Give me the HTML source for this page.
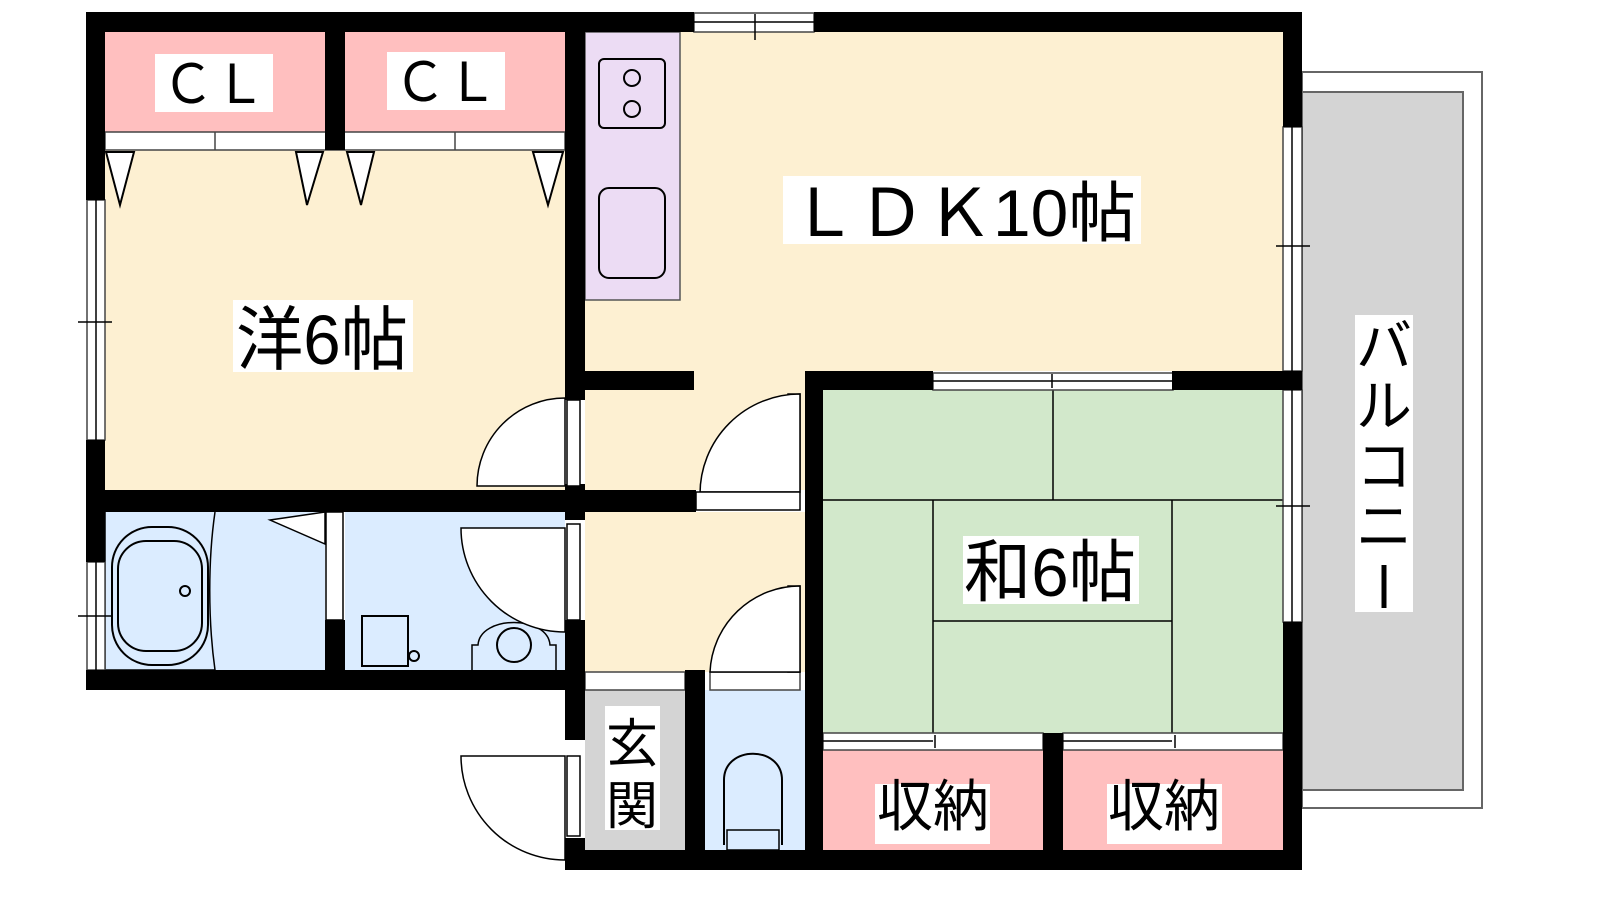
<!DOCTYPE html>
<html><head><meta charset="utf-8"><style>
html,body{margin:0;padding:0;background:#fff;width:1600px;height:900px;overflow:hidden}
svg{display:block}
text{font-family:"Liberation Sans","Noto Sans CJK JP",sans-serif;fill:#000}
</style></head><body>
<svg width="1600" height="900" viewBox="0 0 1600 900" xmlns="http://www.w3.org/2000/svg">
<!-- balcony -->
<rect x="1302" y="72" width="180" height="736" fill="#fff" stroke="#666" stroke-width="2"/>
<rect x="1302" y="92" width="161" height="698" fill="#d4d4d4" stroke="#666" stroke-width="2"/>
<!-- floors -->
<rect x="105" y="150" width="460" height="340" fill="#fdf0d2"/>
<rect x="585" y="32" width="698" height="339" fill="#fdf0d2"/>
<rect x="585" y="360" width="220" height="130" fill="#fdf0d2"/>
<rect x="585" y="512" width="220" height="160" fill="#fdf0d2"/>
<rect x="105" y="32" width="220" height="100" fill="#ffbfbf"/>
<rect x="345" y="32" width="220" height="100" fill="#ffbfbf"/>
<rect x="105" y="132" width="460" height="18" fill="#fff" stroke="#444" stroke-width="1.5"/>
<line x1="215" y1="132" x2="215" y2="150" stroke="#444" stroke-width="1.5"/>
<line x1="455" y1="132" x2="455" y2="150" stroke="#444" stroke-width="1.5"/>
<g fill="#fff" stroke="#000" stroke-width="2">
<polygon points="106,152 134,152 120,205"/><polygon points="296,152 323,152 307,205"/>
<polygon points="347,152 374,152 361,205"/><polygon points="533,152 563,152 548,205"/>
</g>
<rect x="585" y="32" width="95" height="268" fill="#ecdcf4" stroke="#555" stroke-width="1.5"/>
<rect x="599" y="59" width="66" height="69" rx="5" fill="none" stroke="#000" stroke-width="2"/>
<circle cx="632" cy="78" r="8" fill="none" stroke="#000" stroke-width="2"/>
<circle cx="632" cy="109" r="8" fill="none" stroke="#000" stroke-width="2"/>
<rect x="599" y="188" width="66" height="90" rx="10" fill="none" stroke="#000" stroke-width="2"/>
<!-- bath -->
<rect x="105" y="512" width="220" height="158" fill="#dbecff"/>
<rect x="345" y="512" width="220" height="158" fill="#dbecff"/>
<path d="M105,512 V670 H215 C208,620 208,560 215,512" fill="none" stroke="#000" stroke-width="1.5"/>
<rect x="112" y="527" width="96" height="138" rx="40" fill="none" stroke="#000" stroke-width="2"/>
<rect x="118" y="541" width="84" height="110" rx="28" fill="none" stroke="#000" stroke-width="2"/>
<circle cx="185" cy="591" r="5" fill="none" stroke="#000" stroke-width="2"/>
<polygon points="270,520 325,512 325,544" fill="#fff" stroke="#000" stroke-width="1.5"/>
<rect x="326" y="512" width="17" height="108" fill="#fff" stroke="#000" stroke-width="1.5"/>
<rect x="362" y="616" width="46" height="50" fill="none" stroke="#000" stroke-width="2"/>
<circle cx="414" cy="656" r="5" fill="none" stroke="#000" stroke-width="2"/>
<path d="M472,670 V645 H478 C480,615 548,615 550,645 H556 V670" fill="none" stroke="#000" stroke-width="1.5"/>
<circle cx="514" cy="645" r="17" fill="none" stroke="#000" stroke-width="2"/>
<!-- genkan / toilet -->
<rect x="585" y="690" width="100" height="160" fill="#d4d4d4"/>
<rect x="705" y="690" width="100" height="160" fill="#dbecff"/>
<rect x="585" y="672" width="100" height="18" fill="#fff" stroke="#444" stroke-width="1.5"/>
<rect x="710" y="672" width="90" height="18" fill="#fff" stroke="#444" stroke-width="1.5"/>
<path d="M724,845 V780 C724,745 782,745 782,780 V845" fill="none" stroke="#000" stroke-width="2"/>
<rect x="727" y="830" width="52" height="20" fill="none" stroke="#000" stroke-width="1.5"/>
<!-- tatami -->
<rect x="823" y="390" width="460" height="343" fill="#d2e8cb"/>
<g stroke="#000" stroke-width="1.5" fill="none">
<line x1="823" y1="500" x2="1283" y2="500"/><line x1="1053" y1="390" x2="1053" y2="500"/>
<line x1="933" y1="500" x2="933" y2="733"/><line x1="1172" y1="500" x2="1172" y2="733"/>
<line x1="933" y1="621" x2="1172" y2="621"/>
</g>
<rect x="823" y="750" width="220" height="100" fill="#ffbfbf"/>
<rect x="1063" y="750" width="220" height="100" fill="#ffbfbf"/>
<g fill="#fff" stroke="#444" stroke-width="1.5">
<rect x="823" y="733" width="220" height="17"/><rect x="1063" y="733" width="220" height="17"/>
<rect x="933" y="373" width="240" height="17"/>
<rect x="694" y="13" width="120" height="19"/>
<rect x="1283" y="127" width="19" height="244"/><rect x="1283" y="390" width="19" height="232"/>
<rect x="87" y="200" width="18" height="240"/><rect x="87" y="562" width="18" height="108"/>
</g>
<g stroke="#000" stroke-width="1.5">
<line x1="823" y1="741" x2="933" y2="741"/><line x1="1063" y1="741" x2="1172" y2="741"/>
<line x1="933" y1="381" x2="1172" y2="381"/>
<line x1="694" y1="22" x2="814" y2="22"/>
<line x1="1292" y1="127" x2="1292" y2="371"/><line x1="1292" y1="390" x2="1292" y2="622"/>
<line x1="96" y1="200" x2="96" y2="440"/><line x1="96" y1="562" x2="96" y2="670"/>
<line x1="78" y1="322" x2="112" y2="322"/><line x1="78" y1="616" x2="112" y2="616"/>
<line x1="1276" y1="246" x2="1310" y2="246"/><line x1="1276" y1="506" x2="1310" y2="506"/>
<line x1="1052" y1="374" x2="1052" y2="388"/><line x1="755" y1="14" x2="755" y2="40"/>
<line x1="935" y1="735" x2="935" y2="748"/><line x1="1175" y1="735" x2="1175" y2="748"/>
</g>
<!-- walls -->
<g fill="#000">
<rect x="86" y="12" width="608" height="20"/><rect x="814" y="12" width="488" height="20"/>
<rect x="86" y="12" width="19" height="188"/><rect x="86" y="440" width="19" height="122"/>
<rect x="1283" y="12" width="19" height="115"/><rect x="1283" y="371" width="19" height="19"/>
<rect x="1283" y="622" width="19" height="248"/>
<rect x="325" y="32" width="20" height="118"/>
<rect x="565" y="32" width="20" height="368"/>
<rect x="585" y="371" width="109" height="19"/>
<rect x="805" y="371" width="128" height="19"/><rect x="1172" y="371" width="111" height="19"/>
<rect x="805" y="371" width="18" height="499"/>
<rect x="86" y="490" width="610" height="22"/>
<rect x="325" y="620" width="20" height="50"/>
<rect x="86" y="670" width="499" height="20"/>
<rect x="565" y="670" width="20" height="70"/><rect x="565" y="838" width="20" height="32"/>
<rect x="685" y="670" width="20" height="180"/>
<rect x="565" y="850" width="737" height="20"/>
<rect x="1043" y="733" width="20" height="117"/>
<rect x="565" y="484" width="20" height="36"/><rect x="565" y="620" width="20" height="52"/>
</g>
<!-- doors -->
<g fill="#fff" stroke="#000" stroke-width="1.5">
<rect x="567" y="400" width="13" height="86"/>
<path d="M565,398 A88,88 0 0 0 477,486 H565 Z"/>
<rect x="788" y="394" width="12" height="96"/>
<path d="M800,394 A100,100 0 0 0 700,494 H700 V492 H800 Z"/>
<rect x="696" y="492" width="104" height="18"/>
<rect x="567" y="524" width="13" height="96"/>
<path d="M565,528 H461 A104,104 0 0 0 565,632 Z"/>
<rect x="788" y="586" width="12" height="86"/>
<path d="M800,586 A90,90 0 0 0 710,672 H800 Z"/>
<rect x="567" y="756" width="13" height="80"/>
<path d="M565,756 H461 A104,104 0 0 0 565,860 Z"/>
</g>
<!-- labels -->
<g fill="#fff">
<rect x="155" y="54" width="118" height="58"/><rect x="387" y="52" width="118" height="58"/>
<rect x="783" y="176" width="358" height="68"/><rect x="233" y="300" width="180" height="72"/>
<rect x="963" y="536" width="176" height="68"/><rect x="1355" y="315" width="58" height="297"/>
<rect x="875" y="784" width="115" height="60"/><rect x="1107" y="784" width="115" height="60"/>
<rect x="605" y="706" width="55" height="124"/>
</g>
<text x="162" y="103" font-size="54" textLength="104" lengthAdjust="spacingAndGlyphs">ＣＬ</text>
<text x="394" y="101" font-size="54" textLength="104" lengthAdjust="spacingAndGlyphs">ＣＬ</text>
<text x="790" y="236" font-size="66" textLength="346" lengthAdjust="spacingAndGlyphs">ＬＤＫ10帖</text>
<text x="236" y="364" font-size="70" textLength="172" lengthAdjust="spacingAndGlyphs">洋6帖</text>
<text x="964" y="596" font-size="68" textLength="172" lengthAdjust="spacingAndGlyphs">和6帖</text>
<text x="877" y="826" font-size="56" textLength="112" lengthAdjust="spacingAndGlyphs">収納</text>
<text x="1108" y="826" font-size="56" textLength="112" lengthAdjust="spacingAndGlyphs">収納</text>
<text x="606" y="762" font-size="52">玄</text>
<text x="606" y="824" font-size="52">関</text>
<g font-size="56">
<text x="1356" y="366">バ</text><text x="1356" y="426">ル</text><text x="1356" y="486">コ</text><text x="1356" y="546">ニ</text>
<line x1="1384" y1="565" x2="1384" y2="608" stroke="#000" stroke-width="5"/>
</g>
</svg>
</body></html>
